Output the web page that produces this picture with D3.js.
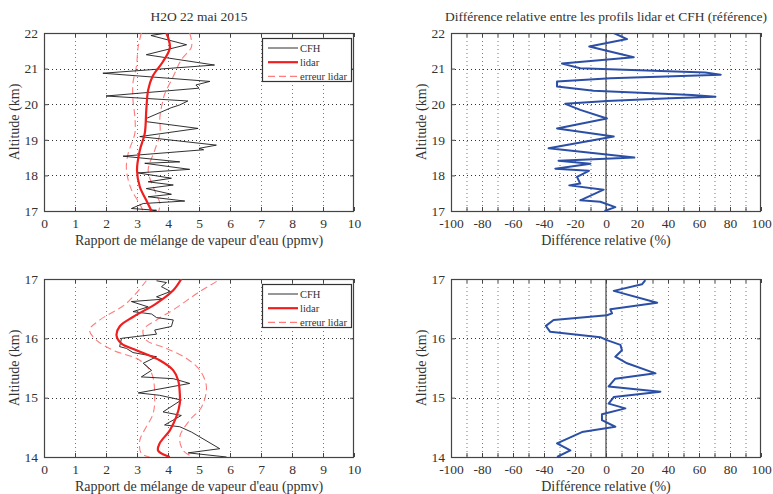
<!DOCTYPE html>
<html><head><meta charset="utf-8">
<script src="https://cdn.jsdelivr.net/npm/d3@7"></script>
<style>
body{margin:0;background:#fff;}
svg{display:block;font-family:"Liberation Serif",serif;}
</style></head>
<body><svg id="c" width="773" height="494"></svg>
<script>
// ---------- DATA (altitude km, value) ----------
const cfhUpper = [[22.0,3.95],[21.93,3.45],[21.67,4.6],[21.39,3.3],[21.1,5.5],[20.87,1.9],[20.64,5.35],[20.54,4.9],[20.45,5.0],[20.23,2.0],[20.09,4.64],[19.98,4.38],[19.9,4.1],[19.6,3.3],[19.51,3.3],[19.32,4.97],[19.09,3.09],[18.85,5.56],[18.76,5.0],[18.72,5.15],[18.54,2.55],[18.38,4.38],[18.34,3.25],[18.17,4.7],[18.07,3.03],[17.92,4.11],[17.82,3.36],[17.73,4.17],[17.63,3.3],[17.47,4.11],[17.4,3.36],[17.28,4.54],[17.21,3.2],[17.07,2.82],[17.02,3.63],[17.0,3.4]];
const lidarUpper = [[22.0,3.95],[21.58,4.06],[21.2,3.84],[20.78,3.5],[20.4,3.36],[19.84,3.3],[19.18,3.25],[18.7,3.09],[18.15,3.0],[17.68,3.09],[17.3,3.3],[17.0,3.47]];
const errLowUpper = [[22.0,3.14],[21.62,3.04],[21.06,2.98],[20.6,2.87],[20.12,2.87],[19.65,2.93],[19.18,2.93],[18.6,2.71],[18.15,2.66],[17.6,2.82],[17.2,3.09],[17.0,3.2]];
const errHighUpper = [[22.0,4.7],[21.62,4.76],[21.25,4.43],[20.78,4.17],[20.3,3.9],[20.12,3.84],[19.65,3.74],[19.18,3.74],[18.7,3.57],[18.15,3.36],[17.68,3.52],[17.2,3.74],[17.0,3.7]];
const diffUpper = [[22.0,5],[21.83,13.6],[21.62,-10.8],[21.32,17.9],[21.14,-28.4],[21.01,-16.6],[20.89,64],[20.83,74],[20.73,2.8],[20.64,-31.6],[20.5,-31.6],[20.38,-8],[20.26,55.5],[20.21,70.6],[20.17,41.5],[20.09,0.6],[20.01,-26.3],[19.84,-16.6],[19.6,0.6],[19.32,-31.6],[19.09,5],[18.76,-37],[18.5,18.3],[18.41,-30.6],[18.33,-10],[18.19,-32.7],[18.13,-11],[17.96,-18.7],[17.77,-16.6],[17.72,-23.7],[17.6,-1.5],[17.3,-16.6],[17.26,-3.7],[17.11,6],[17.0,-1]];

const cfhLower = [[16.97,3.63],[16.94,3.95],[16.87,3.79],[16.79,4.08],[16.70,3.63],[16.66,3.84],[16.62,2.82],[16.53,3.36],[16.45,2.87],[16.41,3.47],[16.35,3.63],[16.31,4.17],[16.2,4.11],[16.14,3.57],[16.07,3.63],[16.03,2.98],[16.0,2.5],[15.86,2.44],[15.83,2.66],[15.76,2.87],[15.72,3.3],[15.69,3.63],[15.58,3.2],[15.46,3.47],[15.35,3.14],[15.32,4.17],[15.24,4.7],[15.08,3.04],[15.04,3.73],[14.96,4.43],[14.76,3.84],[14.7,4.43],[14.54,3.89],[14.51,4.38],[14.42,4.76],[14.14,5.67],[14.07,4.65],[14.0,5.89]];
const lidarLower = [[17.0,4.43],[16.81,4.17],[16.59,3.63],[16.36,2.87],[16.2,2.44],[16.05,2.34],[15.91,2.5],[15.8,2.98],[15.63,3.73],[15.46,4.17],[15.29,4.33],[15.07,4.38],[14.9,4.38],[14.68,4.27],[14.45,4.06],[14.23,3.73],[14.11,3.68],[14.0,4.06]];
const errLowLower = [[16.97,3.3],[16.59,2.66],[16.31,1.8],[16.14,1.47],[15.97,1.69],[15.8,2.23],[15.63,3.09],[15.41,3.47],[15.07,3.57],[14.73,3.52],[14.51,3.3],[14.28,3.09],[14.06,3.14],[14.0,3.41]];
const errHighLower = [[16.96,5.57],[16.79,5.03],[16.48,4.17],[16.31,3.63],[16.14,3.2],[15.97,3.3],[15.83,3.95],[15.66,4.6],[15.46,5.03],[15.18,5.24],[14.84,5.08],[14.62,4.7],[14.34,4.38],[14.11,4.49],[14.0,4.81]];
const diffLower = [[16.98,25.4],[16.91,23.2],[16.8,5],[16.6,33],[16.49,2.8],[16.42,3.9],[16.39,0.6],[16.31,-33.8],[16.21,-38.8],[16.11,-36],[16.02,-3.7],[15.97,0.6],[15.89,9.3],[15.8,10.3],[15.69,6],[15.58,13.6],[15.41,31.9],[15.32,6],[15.19,1.7],[15.1,35.1],[15.01,5],[14.9,1.7],[14.82,12.5],[14.72,-2.6],[14.62,-2.6],[14.51,6],[14.42,-15.5],[14.23,-31.6],[14.11,-23],[14.0,-31.6]];

const mixTicks = [0,1,2,3,4,5,6,7,8,9,10];
const diffTicks = d3.range(-100,101,10);
const diffLabels = [-100,-80,-60,-40,-20,0,20,40,60,80,100];
const altTicksUpper = [17,18,19,20,21,22];
const altTicksLower = [14,15,16,17];
const legendNames = ["CFH","lidar","erreur lidar"];
const titleLeft = "H2O 22 mai 2015";
const titleRight = "Différence relative entre les profils lidar et CFH (référence)";
const xLabelLeft = "Rapport de mélange de vapeur d'eau (ppmv)";
const xLabelRight = "Différence relative (%)";
const yLabel = "Altitude (km)";

// ---------- DRAW ----------
const svg = d3.select("#c");
const C = {axis:"#444", text:"#333", cfh:"#1a1a1a", lidar:"#f01e1e", err:"#ff7c7c", diff:"#2c4fa6"};
let clipId = 0;

function panel(o){
  const x = d3.scaleLinear().domain(o.xd).range([o.l,o.r]);
  const y = d3.scaleLinear().domain(o.yd).range([o.b,o.t]);
  const g = svg.append("g");
  const id = "clip"+(clipId++);
  g.append("clipPath").attr("id",id).append("rect").attr("x",o.l).attr("y",o.t).attr("width",o.r-o.l).attr("height",o.b-o.t);
  // grid
  g.append("g").selectAll("line").data(o.xt.filter(v=>v!==o.xd[0]&&v!==o.xd[1])).join("line")
    .attr("x1",d=>x(d)+0.5).attr("x2",d=>x(d)+0.5).attr("y1",o.t).attr("y2",o.b)
    .attr("stroke","#777").attr("stroke-width",1).attr("stroke-dasharray","1,3");
  g.append("g").selectAll("line").data(o.yt.filter(v=>v!==o.yd[0]&&v!==o.yd[1])).join("line")
    .attr("y1",d=>Math.round(y(d))+0.5).attr("y2",d=>Math.round(y(d))+0.5).attr("x1",o.l).attr("x2",o.r)
    .attr("stroke","#333").attr("stroke-width",1).attr("stroke-dasharray","1,3");
  // axes
  const fmt = d=>String(d).replace("\u2212","-");
  const bottom = d3.axisBottom(x).tickValues(o.xt).tickSizeInner(-4).tickSizeOuter(0).tickPadding(7)
    .tickFormat(d=>o.xl.includes(d)?fmt(d):"");
  const top = d3.axisTop(x).tickValues(o.xt).tickSizeInner(-4).tickSizeOuter(0).tickFormat("");
  const left = d3.axisLeft(y).tickValues(o.yt).tickSizeInner(-4).tickSizeOuter(0).tickPadding(6).tickFormat(fmt);
  const right = d3.axisRight(y).tickValues(o.yt).tickSizeInner(-4).tickSizeOuter(0).tickFormat("");
  const styl = s=>{s.selectAll("path").attr("stroke",C.axis); s.selectAll("line").attr("stroke",C.axis);
    s.selectAll("text").attr("fill",C.text).attr("font-size","13.5px").attr("font-family","Liberation Serif, serif");};
  g.append("g").attr("transform",`translate(0,${o.b})`).call(bottom).call(styl);
  g.append("g").attr("transform",`translate(0,${o.t})`).call(top).call(styl);
  g.append("g").attr("transform",`translate(${o.l},0)`).call(left).call(styl);
  g.append("g").attr("transform",`translate(${o.r},0)`).call(right).call(styl);
  g.selectAll(".domain").remove();
  g.append("rect").attr("x",o.l+0.5).attr("y",o.t+0.5).attr("width",o.r-o.l-1).attr("height",o.b-o.t)
    .attr("fill","none").attr("stroke",C.axis).attr("stroke-width",1.2);
  // labels
  g.append("text").attr("x",(o.l+o.r)/2).attr("y",o.b+34).attr("text-anchor","middle")
    .attr("font-size","14px").attr("fill",C.text).text(o.xlabel);
  g.append("text").attr("transform",`translate(${o.l-25},${(o.t+o.b)/2}) rotate(-90)`).attr("text-anchor","middle")
    .attr("font-size","14px").attr("fill",C.text).text(yLabel);
  if(o.title) g.append("text").attr("x",(o.l+o.r)/2).attr("y",o.t-12).attr("text-anchor","middle")
    .attr("font-size","13.5px").attr("fill",C.text).text(o.title);
  const plot = g.append("g").attr("clip-path",`url(#${id})`);
  return {x,y,plot,g};
}

function drawLine(p,data,stroke,width,dash,curve){
  const ln = d3.line().x(d=>p.x(d[1])).y(d=>p.y(d[0])).curve(curve||d3.curveLinear);
  p.plot.append("path").datum(data).attr("d",ln).attr("fill","none").attr("stroke",stroke)
    .attr("stroke-width",width).attr("stroke-dasharray",dash||null).attr("stroke-linejoin","round");
}

function legend(p,x0,y0){
  const g = p.g.append("g");
  g.append("rect").attr("x",x0+0.5).attr("y",y0+0.5).attr("width",89).attr("height",43)
    .attr("fill","#fff").attr("stroke","#333").attr("stroke-width",1.2);
  const items = [{c:C.cfh,w:0.9,d:null},{c:C.lidar,w:2.2,d:null},{c:C.err,w:1.1,d:"7,4"}];
  items.forEach((it,i)=>{
    const yy = y0+10+i*14.2;
    g.append("line").attr("x1",x0+6).attr("x2",x0+36).attr("y1",yy).attr("y2",yy)
      .attr("stroke",it.c).attr("stroke-width",it.w).attr("stroke-dasharray",it.d);
    g.append("text").attr("x",x0+38).attr("y",yy+3.5).attr("font-size","10.5px").attr("fill",C.text).text(legendNames[i]);
  });
}

// Top-left
const p1 = panel({xd:[0,10],yd:[17,22],l:44,r:354,t:33,b:211,xt:mixTicks,xl:mixTicks,yt:altTicksUpper,xlabel:xLabelLeft,title:titleLeft});
drawLine(p1,errLowUpper,C.err,1.1,"7,4",d3.curveCatmullRom);
drawLine(p1,errHighUpper,C.err,1.1,"7,4",d3.curveCatmullRom);
drawLine(p1,cfhUpper,C.cfh,0.9);
drawLine(p1,lidarUpper,C.lidar,2.2,null,d3.curveCatmullRom);
legend(p1,262,38);

// Top-right
const p2 = panel({xd:[-100,100],yd:[17,22],l:451,r:761,t:33,b:211,xt:diffTicks,xl:diffLabels,yt:altTicksUpper,xlabel:xLabelRight,title:titleRight});
p2.plot.append("line").attr("x1",p2.x(0)).attr("x2",p2.x(0)).attr("y1",33).attr("y2",211).attr("stroke","#444").attr("stroke-width",1.2);
drawLine(p2,diffUpper,C.diff,2);

// Bottom-left
const p3 = panel({xd:[0,10],yd:[14,17],l:44,r:354,t:279,b:457,xt:mixTicks,xl:mixTicks,yt:altTicksLower,xlabel:xLabelLeft});
drawLine(p3,errLowLower,C.err,1.1,"7,4",d3.curveCatmullRom);
drawLine(p3,errHighLower,C.err,1.1,"7,4",d3.curveCatmullRom);
drawLine(p3,cfhLower,C.cfh,0.9);
drawLine(p3,lidarLower,C.lidar,2.2,null,d3.curveCatmullRom);
legend(p3,262,284);

// Bottom-right
const p4 = panel({xd:[-100,100],yd:[14,17],l:451,r:761,t:279,b:457,xt:diffTicks,xl:diffLabels,yt:altTicksLower,xlabel:xLabelRight});
p4.plot.append("line").attr("x1",p4.x(0)).attr("x2",p4.x(0)).attr("y1",279).attr("y2",457).attr("stroke","#444").attr("stroke-width",1.2);
drawLine(p4,diffLower,C.diff,2);
</script></body></html>
